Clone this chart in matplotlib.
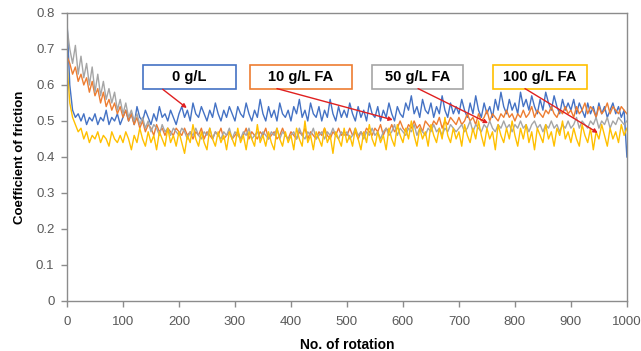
import numpy as np
import matplotlib
matplotlib.use('Agg')
import matplotlib.pyplot as plt
from matplotlib.patches import Rectangle

# Numero de rotacion (paso de 5)
rot = np.arange(0, 1001, 5)

# Coeficiente de friccion
cof_0 = [0.78, 0.60, 0.53, 0.51, 0.52, 0.50, 0.52, 0.49, 0.51, 0.50, 0.52, 0.49, 0.51, 0.50, 0.53, 0.49, 0.51, 0.50, 0.52, 0.49,
         0.51, 0.53, 0.50, 0.52, 0.49, 0.54, 0.51, 0.50, 0.53, 0.51, 0.49, 0.52, 0.50, 0.54, 0.51, 0.52, 0.50, 0.53, 0.51, 0.49,
         0.52, 0.54, 0.51, 0.53, 0.50, 0.55, 0.52, 0.51, 0.54, 0.52, 0.50, 0.53, 0.51, 0.55, 0.52, 0.50, 0.53, 0.51, 0.54, 0.52,
         0.50, 0.54, 0.52, 0.51, 0.55, 0.52, 0.50, 0.53, 0.51, 0.56, 0.52, 0.50, 0.54, 0.51, 0.53, 0.50, 0.55, 0.52, 0.51, 0.53,
         0.50, 0.54, 0.52, 0.56, 0.51, 0.53, 0.50, 0.55, 0.52, 0.51, 0.54, 0.50, 0.53, 0.51, 0.56, 0.52, 0.50, 0.54, 0.51, 0.53,
         0.51, 0.55, 0.52, 0.50, 0.54, 0.51, 0.53, 0.50, 0.55, 0.52, 0.51, 0.54, 0.50, 0.53, 0.51, 0.55, 0.52, 0.50, 0.54, 0.52,
         0.51, 0.55, 0.53, 0.57, 0.52, 0.54, 0.51, 0.56, 0.53, 0.52, 0.55, 0.51, 0.54, 0.52, 0.57, 0.53, 0.51, 0.55, 0.52, 0.54,
         0.52, 0.56, 0.53, 0.51, 0.55, 0.52, 0.57, 0.53, 0.51, 0.55, 0.52, 0.54, 0.51, 0.56, 0.53, 0.58, 0.54, 0.52, 0.56, 0.53,
         0.55, 0.52, 0.58, 0.54, 0.56, 0.53, 0.57, 0.54, 0.52, 0.56, 0.53, 0.58, 0.55, 0.53, 0.57, 0.54, 0.52, 0.56, 0.53, 0.55,
         0.53, 0.56, 0.52, 0.55, 0.53, 0.51, 0.55, 0.52, 0.54, 0.51, 0.55, 0.52, 0.54, 0.51, 0.53, 0.55, 0.52, 0.54, 0.51, 0.53,
         0.40]

cof_10 = [0.68, 0.66, 0.63, 0.65, 0.61, 0.63, 0.60, 0.62, 0.58, 0.61, 0.57, 0.59, 0.55, 0.58, 0.54, 0.56, 0.53, 0.55, 0.52, 0.54,
          0.51, 0.53, 0.50, 0.52, 0.49, 0.51, 0.48, 0.50, 0.47, 0.49, 0.48, 0.46, 0.49, 0.47, 0.48, 0.46, 0.48, 0.47, 0.46, 0.48,
          0.47, 0.46, 0.48, 0.46, 0.47, 0.45, 0.47, 0.46, 0.48, 0.45, 0.47, 0.46, 0.45, 0.47, 0.46, 0.48, 0.45, 0.46, 0.47, 0.45,
          0.46, 0.47, 0.45, 0.46, 0.48, 0.45, 0.47, 0.46, 0.45, 0.47, 0.46, 0.48, 0.45, 0.46, 0.47, 0.45, 0.46, 0.48, 0.46, 0.45,
          0.47, 0.46, 0.45, 0.47, 0.46, 0.48, 0.45, 0.47, 0.46, 0.45, 0.47, 0.46, 0.48, 0.46, 0.45, 0.47, 0.46, 0.48, 0.46, 0.47,
          0.46, 0.48, 0.46, 0.47, 0.45, 0.47, 0.46, 0.48, 0.47, 0.46, 0.48, 0.47, 0.49, 0.46, 0.48, 0.47, 0.49, 0.47, 0.48, 0.50,
          0.48, 0.47, 0.49, 0.48, 0.50, 0.48, 0.49, 0.47, 0.50, 0.49, 0.48, 0.50, 0.49, 0.51, 0.48, 0.50, 0.49, 0.51, 0.50, 0.49,
          0.51, 0.49, 0.50, 0.52, 0.50, 0.51, 0.49, 0.52, 0.50, 0.51, 0.53, 0.50, 0.52, 0.51, 0.50, 0.52, 0.51, 0.53, 0.51, 0.52,
          0.50, 0.52, 0.51, 0.53, 0.51, 0.52, 0.54, 0.51, 0.53, 0.52, 0.51, 0.53, 0.52, 0.54, 0.52, 0.51, 0.53, 0.52, 0.54, 0.52,
          0.53, 0.51, 0.54, 0.52, 0.53, 0.55, 0.52, 0.54, 0.53, 0.51, 0.54, 0.52, 0.53, 0.55, 0.52, 0.54, 0.53, 0.52, 0.54, 0.53,
          0.52]

cof_50 = [0.76, 0.70, 0.66, 0.71, 0.63, 0.68, 0.62, 0.66, 0.60, 0.65, 0.58, 0.63, 0.57, 0.61, 0.56, 0.59, 0.55, 0.58, 0.53, 0.56,
          0.52, 0.55, 0.51, 0.53, 0.50, 0.52, 0.49, 0.51, 0.48, 0.50, 0.47, 0.49, 0.48, 0.46, 0.49, 0.47, 0.48, 0.46, 0.48, 0.47,
          0.46, 0.48, 0.47, 0.45, 0.47, 0.46, 0.48, 0.46, 0.45, 0.47, 0.46, 0.48, 0.45, 0.47, 0.46, 0.45, 0.47, 0.46, 0.48, 0.45,
          0.47, 0.46, 0.45, 0.47, 0.46, 0.48, 0.45, 0.46, 0.47, 0.45, 0.47, 0.46, 0.45, 0.47, 0.46, 0.48, 0.45, 0.47, 0.46, 0.45,
          0.46, 0.47, 0.45, 0.48, 0.46, 0.45, 0.47, 0.46, 0.48, 0.45, 0.46, 0.47, 0.45, 0.47, 0.46, 0.48, 0.46, 0.45, 0.47, 0.46,
          0.47, 0.45, 0.46, 0.48, 0.46, 0.47, 0.45, 0.47, 0.46, 0.48, 0.46, 0.47, 0.45, 0.47, 0.48, 0.46, 0.47, 0.49, 0.46, 0.48,
          0.47, 0.46, 0.48, 0.47, 0.49, 0.46, 0.48, 0.47, 0.46, 0.48, 0.47, 0.49, 0.47, 0.48, 0.46, 0.48, 0.47, 0.49, 0.48, 0.47,
          0.48, 0.49, 0.47, 0.48, 0.50, 0.47, 0.49, 0.48, 0.47, 0.49, 0.48, 0.50, 0.48, 0.47, 0.49, 0.48, 0.50, 0.48, 0.49, 0.47,
          0.49, 0.48, 0.50, 0.48, 0.49, 0.47, 0.49, 0.50, 0.48, 0.49, 0.47, 0.49, 0.48, 0.50, 0.48, 0.49, 0.47, 0.49, 0.48, 0.50,
          0.48, 0.49, 0.51, 0.48, 0.50, 0.49, 0.48, 0.50, 0.49, 0.51, 0.48, 0.50, 0.49, 0.51, 0.48, 0.50, 0.49, 0.51, 0.50, 0.49,
          0.50]

cof_100 = [0.66, 0.55, 0.51, 0.49, 0.47, 0.48, 0.45, 0.47, 0.44, 0.46, 0.45, 0.47, 0.44, 0.46, 0.45, 0.43, 0.47, 0.45, 0.44, 0.46,
           0.44, 0.47, 0.45, 0.42, 0.46, 0.44, 0.48, 0.45, 0.43, 0.47, 0.44, 0.46, 0.42, 0.47, 0.45, 0.43, 0.48, 0.44, 0.46, 0.43,
           0.47, 0.44, 0.41, 0.46, 0.44, 0.49, 0.45, 0.43, 0.47, 0.44, 0.42, 0.48, 0.45, 0.43, 0.47, 0.44, 0.46, 0.42, 0.47, 0.45,
           0.43, 0.48, 0.44, 0.46, 0.42, 0.47, 0.45, 0.43, 0.49, 0.44, 0.46, 0.43, 0.47, 0.44, 0.42, 0.48, 0.45, 0.43, 0.47, 0.44,
           0.46, 0.42, 0.48, 0.45, 0.43, 0.50, 0.44, 0.46, 0.42, 0.47, 0.45, 0.43, 0.48, 0.44, 0.46, 0.41, 0.47, 0.45, 0.43, 0.48,
           0.44, 0.46, 0.43, 0.48, 0.45, 0.42, 0.47, 0.44, 0.49, 0.45, 0.43, 0.47, 0.44, 0.46, 0.42, 0.48, 0.45, 0.43, 0.49, 0.46,
           0.44, 0.48, 0.45, 0.50, 0.46, 0.43, 0.48, 0.45, 0.47, 0.43, 0.49, 0.46, 0.44, 0.48, 0.45, 0.51, 0.46, 0.44, 0.48, 0.45,
           0.47, 0.43, 0.49, 0.46, 0.44, 0.48, 0.45, 0.50, 0.46, 0.43, 0.48, 0.45, 0.47, 0.42, 0.49, 0.46, 0.44, 0.48, 0.45, 0.50,
           0.46, 0.43, 0.48, 0.45, 0.49, 0.44, 0.47, 0.42, 0.48, 0.46, 0.44, 0.49, 0.45, 0.47, 0.43, 0.48, 0.46, 0.50, 0.45, 0.47,
           0.44, 0.48, 0.45, 0.43, 0.49, 0.46, 0.44, 0.48, 0.42, 0.47, 0.45, 0.49, 0.46, 0.43, 0.48, 0.45, 0.47, 0.44, 0.49, 0.46,
           0.48]

etiquetas = ['0 g/L', '10 g/L FA', '50 g/L FA', '100 g/L FA']
colores = ['#4472C4', '#ED7D31', '#A5A5A5', '#FFC000']
series = [cof_0, cof_10, cof_50, cof_100]

# Cajas de texto (x izq, x der) y puntas de flecha
caja_x = [(136, 302), (327, 509), (545, 707), (761, 929)]
flecha_ini = [(171, 0.588), (375, 0.590), (627, 0.590), (818, 0.590)]
flecha_fin = [(214, 0.536), (582, 0.503), (752, 0.494), (948, 0.467)]

plt.rcParams['font.family'] = ['Liberation Sans', 'DejaVu Sans']

fig = plt.figure(figsize=(6.41, 3.51), dpi=100)
ax = fig.add_axes([0.1045, 0.1425, 0.8735, 0.8205])

for s, c in zip(series, colores):
    ax.plot(rot, s, color=c, lw=1.0)

ax.set_xlim(0, 1000)
ax.set_ylim(0, 0.8)
ax.set_xticks(np.arange(0, 1001, 100))
ax.set_yticks(np.arange(0, 0.81, 0.1))
ax.set_yticklabels(['0', '0.1', '0.2', '0.3', '0.4', '0.5', '0.6', '0.7', '0.8'])

for sp in ax.spines.values():
    sp.set_color('#8C8C8C')
    sp.set_linewidth(1.0)
ax.tick_params(colors='#8C8C8C', labelcolor='#595959', labelsize=9.5, length=4, width=1)
ax.tick_params(axis='x', pad=7)
ax.tick_params(axis='y', pad=5)

ax.set_xlabel('No. of rotation', fontsize=10, fontweight='bold', labelpad=7)
ax.set_ylabel('Coefficient of friction', fontsize=9.5, fontweight='bold', labelpad=7)

for (x0, x1), c, t in zip(caja_x, colores, etiquetas):
    ax.add_patch(Rectangle((x0, 0.589), x1 - x0, 0.067, facecolor='white',
                           edgecolor=c, lw=1.2, zorder=5))
    ax.text((x0 + x1) / 2, 0.6225, t, ha='center', va='center', fontsize=10.5,
            fontweight='bold', color='black', zorder=6)

for p0, p1 in zip(flecha_ini, flecha_fin):
    ax.annotate('', xy=p1, xytext=p0, zorder=7,
                arrowprops=dict(arrowstyle='-|>', color='#E02020', lw=1.0,
                                mutation_scale=6, shrinkA=0, shrinkB=0))

fig.savefig('out.png', dpi=100)
